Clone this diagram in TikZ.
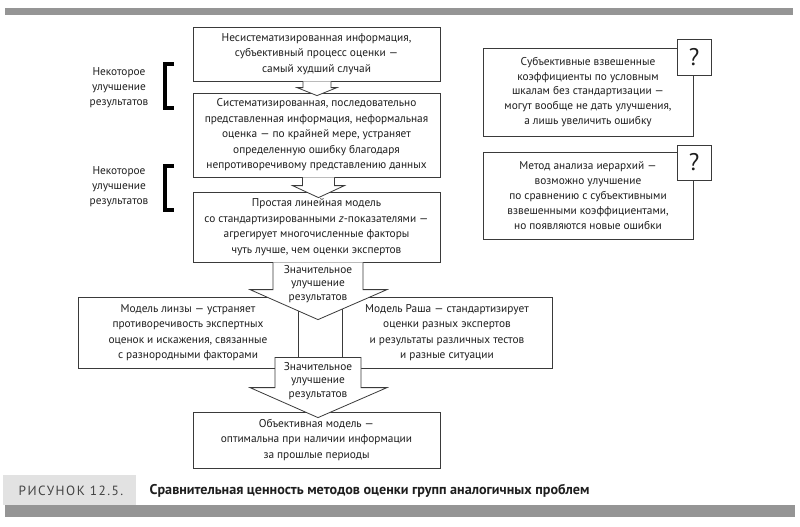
\documentclass[tikz,border=0pt]{standalone}
\usepackage{fontspec}
\setmainfont{PT Sans}
\usetikzlibrary{calc}

\definecolor{barcol}{HTML}{959595}
\definecolor{capbox}{HTML}{E2E2E2}
\definecolor{inkcol}{HTML}{1E1E1E}
\definecolor{linecol}{HTML}{3A3A3A}
\definecolor{figcol}{HTML}{444444}

\begin{document}
\begin{tikzpicture}[x=0.75pt, y=-0.75pt,
    box/.style={draw=linecol, line width=0.6pt, fill=white, text=inkcol, align=center,
        inner sep=0pt, font=\fontsize{8.5}{11.6}\selectfont},
    sidebox/.style={box, minimum width=157.5pt, font=\fontsize{8.5}{11.1}\selectfont},
    qbox/.style={draw=linecol, line width=0.6pt, fill=white, text=inkcol, inner sep=0pt,
        minimum width=25.5pt, font=\fontsize{18}{18}\selectfont},
    hollow/.style={draw=linecol, line width=0.6pt, fill=white, line join=miter},
    gain/.style={text=inkcol, align=center, inner sep=0pt, font=\fontsize{8.5}{10.1}\selectfont},
    note/.style={text=inkcol, align=center, inner sep=0pt, font=\fontsize{8.5}{11.25}\selectfont},
    bracket/.style={draw=black, line width=2.4pt, line join=miter}]

    \useasboundingbox (0,0) rectangle (800,526);

    % bars and caption
    \fill[barcol] (5,8) rectangle (793,15);
    \fill[capbox] (3,475) rectangle (136,505);
    \fill[barcol] (5,505) rectangle (795,517);
    \node[text=figcol, font=\fontsize{10}{10}\selectfont\addfontfeatures{LetterSpace=11}] (fig) at (71,491) {РИСУНОК 12.5.};
    \node[anchor=west, text=inkcol, font=\fontsize{10.6}{10.6}\bfseries] (cap) at (145,491)
        {Сравнительная ценность методов оценки групп аналогичных проблем};

    % main column
    \node[box, minimum width=185.25pt, minimum height=40.5pt] (b1) at (316.5,54)
        {Несистематизированная информация,\\субъективный процесс оценки —\\самый худший случай};
    \node[box, minimum width=185.25pt, minimum height=63pt] (b2) at (316.5,135)
        {Систематизированная, последовательно\\представленная информация, неформальная\\оценка — по крайней мере, устраняет\\определенную ошибку благодаря\\непротиворечивому представлению данных};
    \node[box, minimum width=185.25pt, minimum height=52.5pt] (b3) at (316.5,227)
        {Простая линейная модель\\со стандартизированными \emph{z}-показателями —\\агрегирует многочисленные факторы\\чуть лучше, чем оценки экспертов};
    \node[box, minimum width=165pt, minimum height=53.25pt] (lens) at (188,332.5)
        {Модель линзы — устраняет\\противоречивость экспертных\\оценок и искажения, связанные\\с разнородными факторами};
    \node[box, minimum width=33pt, minimum height=53.25pt] (mid) at (320,332.5) {};
    \node[box, minimum width=157.5pt, minimum height=53.25pt] (rasch) at (447,332.5)
        {Модель Раша — стандартизирует\\оценки разных экспертов\\и результаты различных тестов\\и разные ситуации};
    \node[box, minimum width=185.25pt, minimum height=42pt] (b4) at (316.5,440)
        {Объективная модель —\\оптимальна при наличии информации\\за прошлые периоды};

    % right column
    \node[sidebox, minimum height=66pt] (r1) at (588,92)
        {Субъективные взвешенные\\коэффициенты по условным\\шкалам без стандартизации —\\могут вообще не дать улучшения,\\а лишь увеличить ошибку};
    \node[qbox, minimum height=27pt] (q1) at (694,57) {?};
    \node[sidebox, minimum height=65.25pt] (r2) at (588,195.5)
        {Метод анализа иерархий —\\возможно улучшение\\по сравнению с субъективными\\взвешенными коэффициентами,\\но появляются новые ошибки};
    \node[qbox, minimum height=26.25pt] (q2) at (694,162.5) {?};

    % left notes
    \node[note] (n1) at (119,88) {Некоторое\\улучшение\\результатов};
    \node[note] (n2) at (119,187) {Некоторое\\улучшение\\результатов};
    \draw[bracket] (174,64) -- (165,64) -- (165,108) -- (174,108);
    \draw[bracket] (174,166) -- (165,166) -- (165,210) -- (174,210);

    % hollow arrows
    \filldraw[hollow] ($(b1.south)+(-13.5,0)$) -- ($(b2.north)+(-13.5,-5)$) -- ($(b2.north)+(-19.5,-5)$)
        -- ($(b2.north)+(0.5,3)$) -- ($(b2.north)+(20.5,-5)$) -- ($(b2.north)+(14.5,-5)$) -- ($(b1.south)+(14.5,0)$);
    \filldraw[hollow] ($(b2.south)+(-14,0)$) -- ($(b3.north)+(-14,-6)$) -- ($(b3.north)+(-24,-6)$)
        -- ($(b3.north)+(2,6)$) -- ($(b3.north)+(28,-6)$) -- ($(b3.north)+(18,-6)$) -- ($(b2.south)+(18,0)$);
    \filldraw[hollow] ($(b3.south)+(-43.5,0)$) -- ($(mid.north)+(-47,-7)$) -- ($(mid.north)+(-70,-7)$)
        -- ($(mid.north)+(-2,23)$) -- ($(mid.north)+(67,-7)$) -- ($(mid.north)+(43,-7)$) -- ($(b3.south)+(46.5,0)$);
    \filldraw[hollow] ($(mid.south)+(-45,-11)$) -- ($(b4.north)+(-41.5,-24)$) -- ($(b4.north)+(-66.5,-24)$)
        -- ($(b4.north)+(1.5,6)$) -- ($(b4.north)+(70.5,-24)$) -- ($(b4.north)+(44.5,-24)$) -- ($(mid.south)+(41,-11)$)
        -- cycle;
    \node[gain] (g1) at (318,284) {Значительное\\улучшение\\результатов};
    \node[gain] (g2) at (318,381) {Значительное\\улучшение\\результатов};
\end{tikzpicture}
\end{document}
